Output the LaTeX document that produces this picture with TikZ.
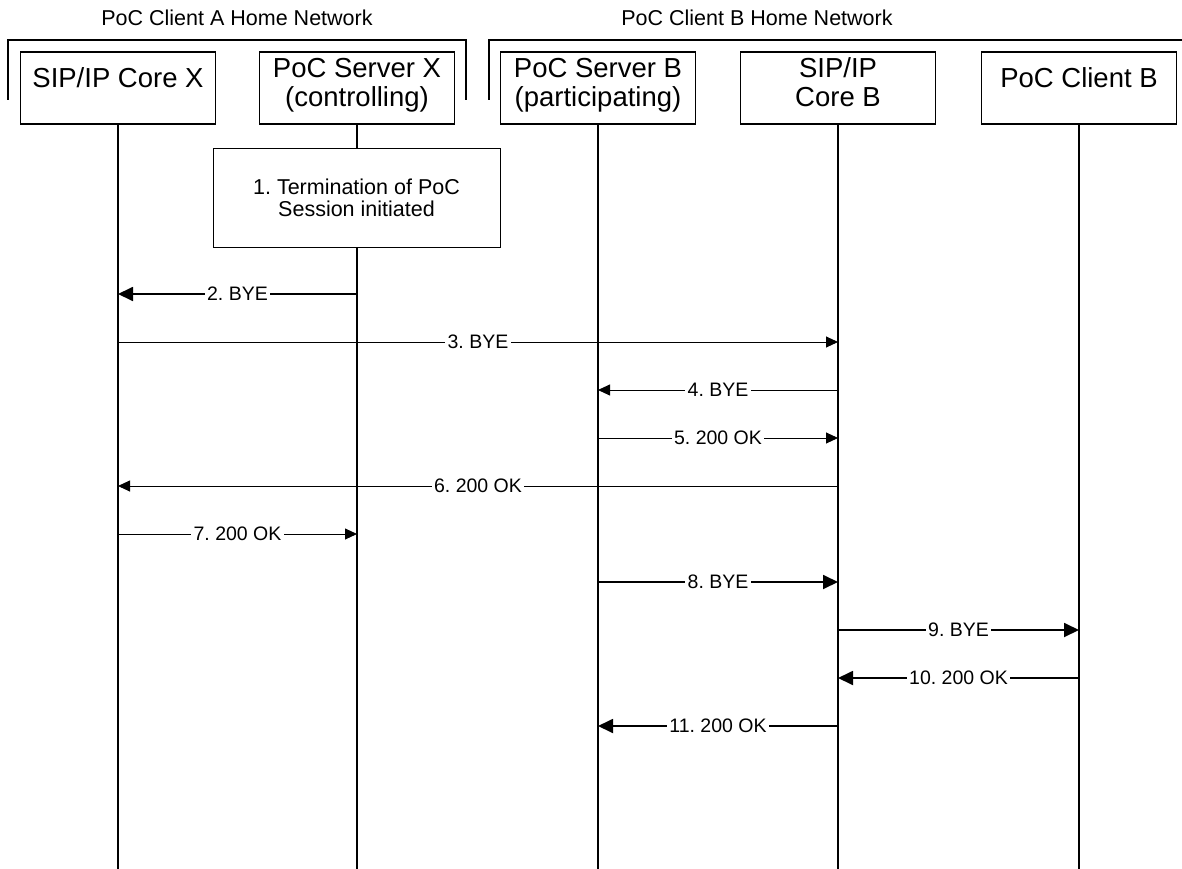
\documentclass[tikz,border=0pt]{standalone}
\usepackage{fontspec}
\setmainfont{Liberation Sans}
\frenchspacing
\usetikzlibrary{arrows.meta}
\newcommand{\hdrfont}{\fontsize{27.5}{29}\selectfont}
\newcommand{\lblfont}{\fontsize{19.5}{22}\selectfont}
\newcommand{\netfont}{\fontsize{21.5}{24}\selectfont}
\newcommand{\actfont}{\fontsize{21.5}{22}\selectfont}
\begin{document}
\begin{tikzpicture}[x=1pt,y=-1pt,
  hdr/.style={draw,line width=1.4pt,minimum width=195pt,minimum height=72pt,inner sep=0pt,align=center,font=\hdrfont},
  oneline/.style={text height=20pt,text depth=20.3pt},
  twoline/.style={text height=49pt,text depth=11.3pt},
  life/.style={line width=1.8pt},
  msg/.style={line width=0.9pt,-{Triangle[length=12pt,width=11pt]}},
  msgthick/.style={line width=1.8pt,-{Triangle[length=15pt,width=14pt]}},
  lbl/.style={fill=white,inner sep=2.5pt,font=\lblfont},
  net/.style={line width=1.4pt}]
 \useasboundingbox (0,0) rectangle (1182,869);
 % home networks
 \node[font=\netfont] (neta) at (237,18) {PoC Client A Home Network};
 \node[font=\netfont] (netb) at (757,18) {PoC Client B Home Network};
 \draw[net] (8,100) -- (8,40) -- (466,40) -- (466,100);
 \draw[net] (489,100) -- (489,40) -- (1182,40);
 % entities
 \node[hdr,oneline] (corex) at (118,88) {SIP/IP Core X};
 \node[hdr,twoline] (serverx) at (357,88) {PoC Server X\\(controlling)};
 \node[hdr,twoline] (serverb) at (598,88) {PoC Server B\\(participating)};
 \node[hdr,twoline] (coreb) at (838,88) {SIP/IP\\Core B};
 \node[hdr,oneline] (clientb) at (1079,88) {PoC Client B};
 % lifelines
 \coordinate (bottom) at (0,869);
 \foreach \n in {corex,serverx,serverb,coreb,clientb}
  \draw[life] (\n.south) -- (\n |- bottom);
 \node[draw,line width=1pt,fill=white,minimum width=287pt,minimum height=98pt,align=center,font=\actfont] (term) at (356.5,198) {1. Termination of PoC\\Session initiated};
 % messages
 \foreach \i/\y in {2/294,3/342,4/390,5/438,6/486,7/534,8/582,9/630,10/678,11/726}
  \coordinate (m\i) at (0,\y);
 \draw[msgthick] (serverx |- m2) -- node[lbl] {2. BYE} (corex |- m2);
 \draw[msg] (corex |- m3) -- node[lbl] {3. BYE} (coreb |- m3);
 \draw[msg] (coreb |- m4) -- node[lbl] {4. BYE} (serverb |- m4);
 \draw[msg] (serverb |- m5) -- node[lbl] {5. 200 OK} (coreb |- m5);
 \draw[msg] (coreb |- m6) -- node[lbl] {6. 200 OK} (corex |- m6);
 \draw[msg] (corex |- m7) -- node[lbl] {7. 200 OK} (serverx |- m7);
 \draw[msgthick] (serverb |- m8) -- node[lbl] {8. BYE} (coreb |- m8);
 \draw[msgthick] (coreb |- m9) -- node[lbl] {9. BYE} (clientb |- m9);
 \draw[msgthick] (clientb |- m10) -- node[lbl] {10. 200 OK} (coreb |- m10);
 \draw[msgthick] (coreb |- m11) -- node[lbl] {11. 200 OK} (serverb |- m11);
\end{tikzpicture}
\end{document}
